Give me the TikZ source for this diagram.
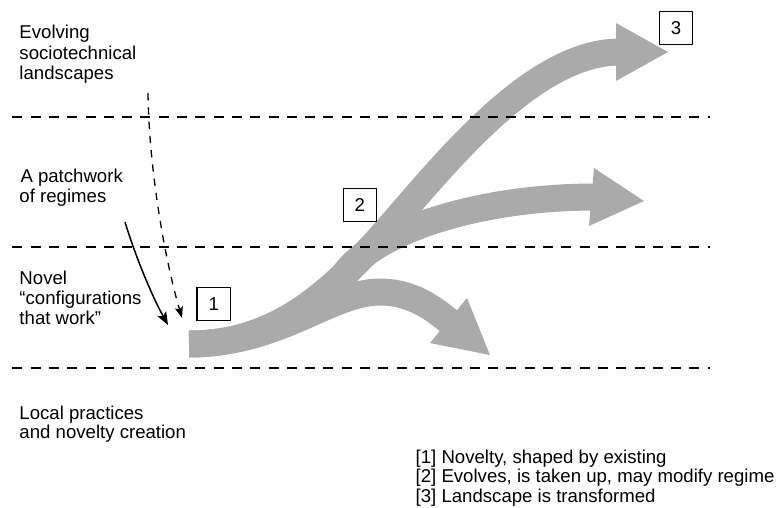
\documentclass[tikz,border=0pt]{standalone}
\usepackage{fontspec}
\setmainfont{Liberation Sans}
\usetikzlibrary{arrows.meta}
\definecolor{flowgray}{RGB}{170,170,170}
\begin{document}
\begin{tikzpicture}[x=1pt,y=-1pt,
  txt/.style={anchor=base west, inner sep=0pt, font=\fontsize{18.6}{20}\selectfont},
  levelline/.style={line width=1.4pt, dash pattern=on 10pt off 8.3pt},
  flow/.style={draw=flowgray, line width=27pt},
  flowhead/.style={fill=flowgray},
  numbox/.style={draw, line width=1.2pt, minimum width=33.5pt, minimum height=33pt,
                 inner sep=0pt, font=\fontsize{18.6}{20}\selectfont},
  thinarrow/.style={line width=1.5pt, -{Stealth[length=13pt,width=10pt,inset=3pt]}},
  thindash/.style={line width=1.3pt, dash pattern=on 7.3pt off 7pt,
                   -{Stealth[length=11pt,width=8pt,inset=2pt]}}
]
\useasboundingbox (0,0) rectangle (779,507);

% ---- grey development arrows ----
\coordinate (root) at (189,344);
% trunk reaching the landscape
\draw[flow] (root) .. controls (270,344) and (320,300) .. (363,256)
                   .. controls (420,198) and (520,52) .. (620,52);
\fill[flowhead] (616,23) -- (668,52) -- (616,81) -- cycle;
% branch into the regimes
\draw[flow] (343,276) .. controls (375,230) and (480,197) .. (595,197);
\fill[flowhead] (594,168) -- (644,201) -- (589,226) -- cycle;
% branch falling back to the niche
\draw[flow] (root) .. controls (280,344) and (330,292) .. (380,292)
                   .. controls (405,292) and (427,302) .. (451,323);
\fill[flowhead] (467,298) -- (490,355) -- (430,343) -- cycle;

% ---- level separators ----
\draw[levelline] (12.3,117) -- (710,117);
\draw[levelline] (12.3,247) -- (710,247);
\draw[levelline] (12.3,368) -- (710,368);

% ---- level labels ----
\node[txt] (land1) at (19.3,38.7) {Evolving};
\node[txt] (land2) at (19.3,59) {sociotechnical};
\node[txt] (land3) at (19.3,79.3) {landscapes};
\node[txt] (reg1) at (20.3,182.3) {A patchwork};
\node[txt] (reg2) at (19.3,202.3) {of regimes};
\node[txt] (nov1) at (19.3,284) {Novel};
\node[txt] (nov2) at (19.3,304) {“configurations};
\node[txt] (nov3) at (19.3,324) {that work”};
\node[txt] (loc1) at (19.3,419) {Local practices};
\node[txt] (loc2) at (19.3,438.5) {and novelty creation};

% ---- influences from above ----
\coordinate (regFrom) at (125,222);
\coordinate (regTo) at (168,325);
\draw[thinarrow] (regFrom) .. controls (136,258) and (152,296) .. (regTo);
\coordinate (landFrom) at (148,93);
\coordinate (landTo) at (182,318);
\draw[thindash] (landFrom) .. controls (149,170) and (165,260) .. (landTo);

% ---- numbered stages ----
\node[numbox] (s1) at (213.8,303.9) {1};
\node[numbox] (s2) at (359.9,205.3) {2};
\node[numbox] (s3) at (676,28) {3};

% ---- legend ----
\node[txt] (key1) at (415.5,463) {[1] Novelty, shaped by existing};
\node[txt] (key2) at (415.5,482.5) {[2] Evolves, is taken up, may modify regime};
\node[txt] (key3) at (415.5,502) {[3] Landscape is transformed};
\end{tikzpicture}
\end{document}
